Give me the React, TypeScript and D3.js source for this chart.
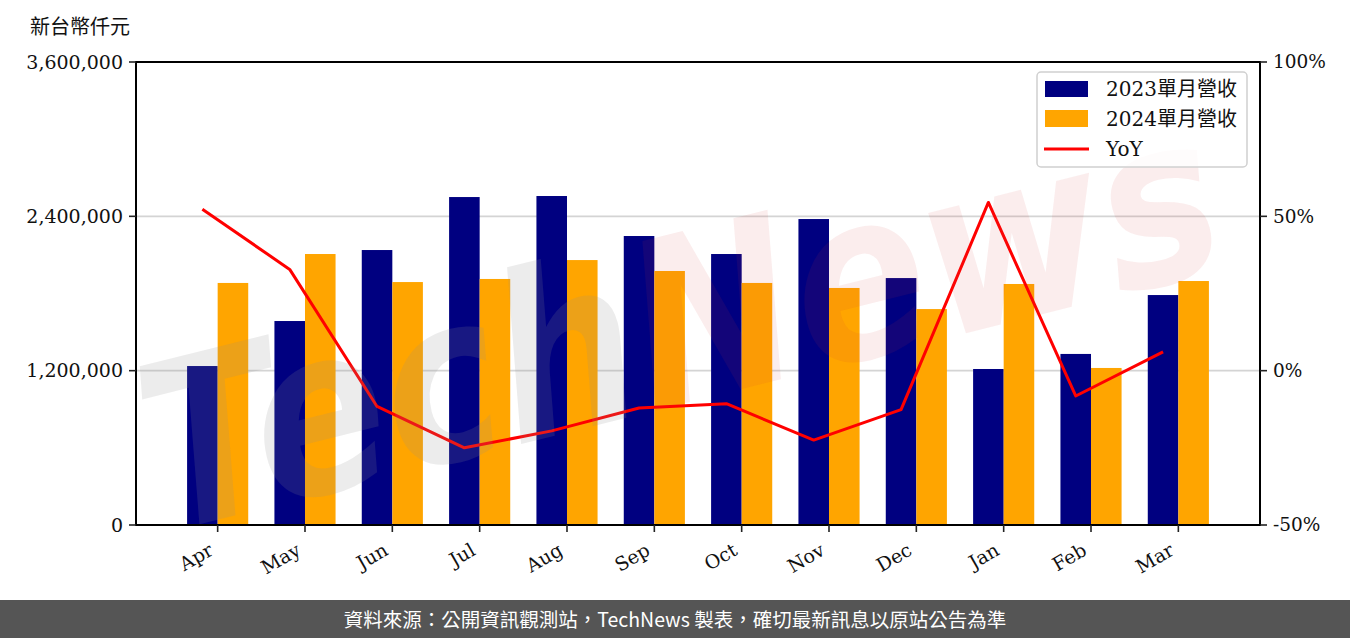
import * as d3 from "d3";
import React from "react";

const months = ["Apr", "May", "Jun", "Jul", "Aug", "Sep", "Oct", "Nov", "Dec", "Jan", "Feb", "Mar"];
const rev2023 = [1236000, 1586000, 2138000, 2550000, 2558000, 2247000, 2107000, 2379000, 1920000, 1213000, 1330000, 1788000];
const rev2024 = [1882000, 2107000, 1889000, 1913000, 2060000, 1975000, 1882000, 1843000, 1679000, 1874000, 1221000, 1897000];
const yoy = [52.3, 32.8, -11.6, -25.0, -19.5, -12.1, -10.7, -22.5, -12.6, 54.5, -8.2, 6.1];
const leftTicks = [0, 1200000, 2400000, 3600000];
const rightTicks = [-50, 0, 50, 100];
const legendLabels = ["2023單月營收", "2024單月營收", "YoY"];

const W = 1350;
const H = 638;
const plot = { left: 136, right: 1260, top: 62, bottom: 525 };
const barW = 0.35;
const serif = "'DejaVu Serif', 'Noto Sans CJK TC', serif";

function App() {
    const x = d3.scaleLinear().domain([-0.935, 11.935]).range([plot.left, plot.right]);
    const y = d3.scaleLinear().domain([0, 3600000]).range([plot.bottom, plot.top]);
    const y2 = d3.scaleLinear().domain([-50, 100]).range([plot.bottom, plot.top]);
    const fmt = d3.format(",");

    // yoy is drawn at the centre of the 2023 bar
    const line = d3.line<number>()
        .x((_, i) => x(i - barW / 2))
        .y(d => y2(d));

    const bw = x(barW) - x(0);

    return (
        <svg width={W} height={H} style={{ position: "absolute", left: 0, top: 0, background: "#fff" }}>
            <text x={30} y={34} fontSize={20} fontFamily={serif} fill="#111">新台幣仟元</text>

            {/* grid */}
            {leftTicks.slice(1, 3).map(t => (
                <line key={t} x1={plot.left} x2={plot.right} y1={y(t)} y2={y(t)} stroke="#d4d4d4" strokeWidth={1.6} />
            ))}

            {/* bars */}
            {rev2023.map((v, i) => (
                <rect key={"a" + i} x={x(i - barW)} y={y(v)} width={bw} height={y(0) - y(v)} fill="#000080" />
            ))}
            {rev2024.map((v, i) => (
                <rect key={"b" + i} x={x(i)} y={y(v)} width={bw} height={y(0) - y(v)} fill="#ffa500" />
            ))}

            <path d={line(yoy) || ""} fill="none" stroke="#ff0000" strokeWidth={3} strokeLinejoin="round" />

            {/* watermark */}
            <g transform="translate(680,322) rotate(-14)" style={{ pointerEvents: "none" }}>
                <text x={0} y={0} textAnchor="middle" dominantBaseline="central" fontSize={230}
                    fontFamily="'DejaVu Sans', sans-serif" fontWeight="bold" fontStyle="oblique"
                    textLength={1100} lengthAdjust="spacingAndGlyphs">
                    <tspan fill="rgba(140,140,140,0.17)">Tech</tspan>
                    <tspan fill="rgba(215,60,60,0.09)">News</tspan>
                </text>
            </g>

            {/* frame */}
            <rect x={plot.left} y={plot.top} width={plot.right - plot.left} height={plot.bottom - plot.top}
                fill="none" stroke="#000" strokeWidth={2} />

            {/* left axis */}
            {leftTicks.map(t => (
                <g key={t}>
                    <line x1={plot.left - 7} x2={plot.left} y1={y(t)} y2={y(t)} stroke="#222" strokeWidth={1.6} />
                    <text x={plot.left - 13} y={y(t)} dy="0.35em" textAnchor="end" fontSize={19} fontFamily={serif} fill="#111">{fmt(t)}</text>
                </g>
            ))}

            {/* right axis */}
            {rightTicks.map(t => (
                <g key={t}>
                    <line x1={plot.right} x2={plot.right + 7} y1={y2(t)} y2={y2(t)} stroke="#222" strokeWidth={1.6} />
                    <text x={plot.right + 13} y={y2(t)} dy="0.35em" fontSize={18.5} fontFamily={serif} fill="#111">{t + "%"}</text>
                </g>
            ))}

            {/* x axis */}
            {months.map((m, i) => (
                <g key={m}>
                    <line x1={x(i)} x2={x(i)} y1={plot.bottom} y2={plot.bottom + 7} stroke="#222" strokeWidth={1.6} />
                    <text transform={`translate(${x(i) - 3},554) rotate(-30)`} textAnchor="end" fontSize={19} fontFamily={serif} fill="#111">{m}</text>
                </g>
            ))}

            {/* legend */}
            <g>
                <rect x={1037} y={72} width={210} height={95} rx={4} fill="rgba(255,255,255,0.8)" stroke="#d0d0d0" strokeWidth={1.5} />
                <rect x={1045} y={81} width={43} height={16} fill="#000080" />
                <rect x={1045} y={110} width={43} height={17} fill="#ffa500" />
                <line x1={1044} x2={1089} y1={149} y2={149} stroke="#ff0000" strokeWidth={3} />
                {legendLabels.map((l, i) => (
                    <text key={l} x={1106} y={89 + i * 30} dy="0.35em" fontSize={20} fontFamily={serif} fill="#111">{l}</text>
                ))}
            </g>

            {/* footer */}
            <rect x={0} y={600} width={W} height={38} fill="#555555" />
            <text x={675} y={620} dy="0.35em" textAnchor="middle" fontSize={19.5} fill="#fff"
                fontFamily="'Noto Sans CJK TC', 'Noto Sans', sans-serif">資料來源：公開資訊觀測站，TechNews 製表，確切最新訊息以原站公告為準</text>
        </svg>
    );
}

export default App;
